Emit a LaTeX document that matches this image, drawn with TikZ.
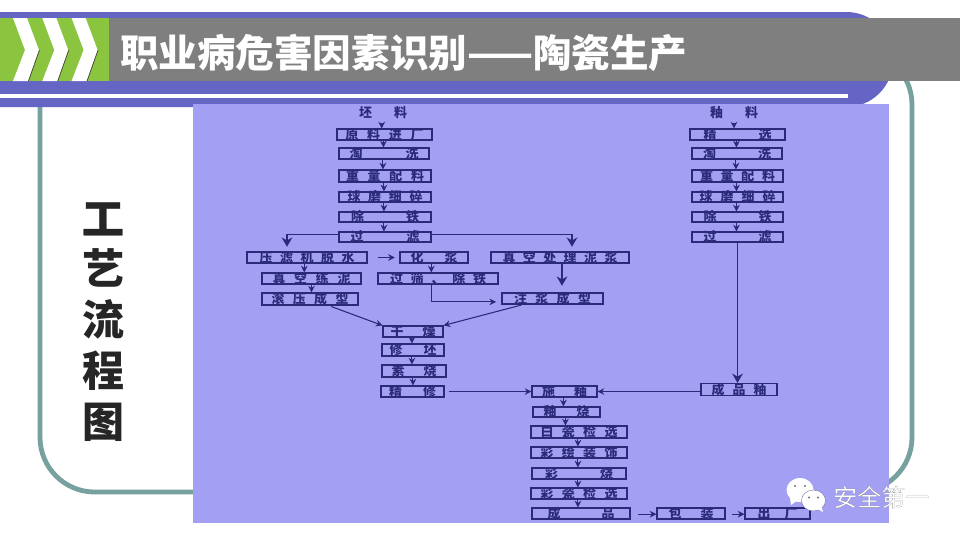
\documentclass[tikz,border=0pt]{standalone}
\usepackage{fontspec}
\setmainfont{Noto Sans CJK SC}
\usetikzlibrary{arrows.meta}
\definecolor{teal1}{HTML}{76A19E}
\definecolor{ban}{HTML}{6565C3}
\definecolor{greyb}{HTML}{7F7F7F}
\definecolor{grn}{HTML}{8BC53F}
\definecolor{lav}{HTML}{A3A0F4}
\definecolor{ink}{HTML}{2A2A78}
\newcommand\bx[7]{\node[pb,minimum width=#4*0.75pt,minimum height=#5*0.75pt] (#1) at (#2,#3) {\hbox to \dimexpr #6pt*3/4\relax{#7}};}
\tikzset{
 pb/.style={draw=ink,line width=0.85pt,inner sep=0pt,text=ink,font=\fontsize{9.7pt}{10pt}\selectfont\bfseries,text height=7.4pt,text depth=0pt},
 lab/.style={inner sep=0pt,text=ink,font=\fontsize{9.7pt}{10pt}\selectfont\bfseries},
 arr/.style={ink,line width=0.8pt,-{Stealth[length=5pt,width=5pt]}},
 arrb/.style={ink,line width=1.25pt,-{Stealth[length=7pt,width=8pt]}},
}
\begin{document}
\begin{tikzpicture}[x=0.75pt,y=-0.75pt]
\useasboundingbox (0,0) rectangle (960,540);
\fill[white] (0,0) rectangle (960,540);
% frame
\draw[teal1,line width=3.6pt,rounded corners=41pt] (40,50) rectangle (912,492);
% banner
\fill[ban,rounded corners=35pt] (-60,12) rectangle (893,107);
\fill[white] (0,94) rectangle (848,98);
\fill[greyb] (109,18) rectangle (960,81);
\fill[grn] (0,18) rectangle (109,81);
\foreach \d in {0,29.3,58.6}{
 \fill[white] (13+\d,18) -- (27+\d,18) -- (39+\d,50) -- (28+\d,81) -- (13+\d,81) -- (25+\d,50) -- cycle;
 \draw[black!75,line width=0.5pt] (39.5+\d,50) -- (28.5+\d,81);
}
\node[anchor=west,inner sep=0pt,text=white,font=\fontsize{28.9pt}{30pt}\selectfont\bfseries] (title) at (120,53) {职业病危害因素识别——陶瓷生产};
% side title
\node[inner sep=0pt,align=center,text=black!85,font=\fontsize{31.5pt}{38.2pt}\selectfont\bfseries] (side) at (103,322) {\addfontfeatures{FakeBold=0.6}工\\艺\\流\\程\\图};
% image
\fill[lav] (193,104) rectangle (889,523);
% left column
\node[lab] (pi) at (383,113) {\hbox to \dimexpr 48pt*3/4\relax{坯\hfil 料}};
\bx{a1}{384.5}{134.5}{95}{11}{78}{原\hfil 料\hfil 进\hfil 厂}
\bx{a2}{384}{153.5}{90}{11}{69}{淘\hfil 洗}
\bx{a3}{385}{176}{92}{12}{78}{重\hfil 量\hfil 配\hfil 料}
\bx{a4}{385}{197}{92}{10}{75}{球\hfil 磨\hfil 细\hfil 碎}
\bx{a5}{385}{217}{92}{10}{68}{除\hfil 铁}
\bx{a6}{385}{237}{92}{10}{69}{过\hfil 滤}
\bx{b1}{307}{257.5}{120}{11}{95}{压\hfil 滤\hfil 机\hfil 脱\hfil 水}
\bx{b2}{434}{257.5}{68}{11}{47}{化\hfil 浆}
\bx{b3}{560}{257.5}{138}{11}{115}{真\hfil 空\hfil 处\hfil 理\hfil 泥\hfil 浆}
\bx{c1}{311.5}{278.5}{99}{11}{78}{真\hfil 空\hfil 练\hfil 泥}
\bx{c2}{438}{278.5}{120}{11}{96}{过\hfil 筛\hfil 、\hfil 除\hfil 铁}
\bx{d1}{310}{299}{96}{12}{77}{滚\hfil 压\hfil 成\hfil 型}
\bx{d2}{552.5}{298.5}{101}{11}{77}{注\hfil 浆\hfil 成\hfil 型}
\bx{e1}{413}{331.5}{60}{11}{45}{干\hfil 燥}
\bx{e2}{413}{350}{62}{12}{47}{修\hfil 坯}
\bx{e3}{414}{371}{64}{12}{45}{素\hfil 烧}
\bx{e4}{412.5}{391.5}{63}{11}{47}{精\hfil 修}
% centre column
\bx{f1}{564.5}{391.5}{65}{11}{45}{施\hfil 釉}
\bx{f2}{566.5}{412}{67}{10}{46}{釉\hfil 烧}
\bx{f3}{579}{432}{96}{12}{77}{白\hfil 瓷\hfil 检\hfil 选}
\bx{f4}{579}{452.5}{96}{11}{77}{彩\hfil 绘\hfil 装\hfil 饰}
\bx{f5}{579}{473.5}{94}{11}{68}{彩\hfil 烧}
\bx{f6}{579}{493.5}{96}{11}{77}{彩\hfil 瓷\hfil 检\hfil 选}
\bx{f7}{581}{513.5}{98}{11}{67}{成\hfil 品}
\bx{g1}{691}{513.5}{68}{11}{45}{包\hfil 装}
\bx{g2}{777.5}{513.5}{65}{11}{40}{出\hfil 厂}
% right column
\node[lab] (you) at (734,113) {\hbox to \dimexpr 48pt*3/4\relax{釉\hfil 料}};
\bx{r1}{737.5}{134.5}{95}{11}{68}{精\hfil 选}
\bx{r2}{737}{153.5}{90}{11}{68}{淘\hfil 洗}
\bx{r3}{737.5}{176}{91}{12}{75}{重\hfil 量\hfil 配\hfil 料}
\bx{r4}{737.5}{197}{91}{10}{76}{球\hfil 磨\hfil 细\hfil 碎}
\bx{r5}{737.5}{217}{91}{10}{68}{除\hfil 铁}
\bx{r6}{737.5}{237}{91}{10}{68}{过\hfil 滤}
\bx{r7}{739}{389.5}{76}{12}{55}{成\hfil 品\hfil 釉}
% vertical connectors
\foreach \p/\q in {a1/a2,a2/a3,a3/a4,a4/a5,a5/a6,e1/e2,e2/e3,e3/e4,f1/f2,f2/f3,f3/f4,f4/f5,f5/f6,f6/f7,r1/r2,r2/r3,r3/r4,r4/r5,r5/r6}
 \draw[arr] ([xshift=-0.8pt]\p.south) -- ([xshift=-0.8pt]\p.south |- \q.north);
\draw[arr,shorten <=3pt] ([xshift=-1pt]pi.south) -- ([xshift=-1pt]pi.south |- a1.north);
\draw[arr,shorten <=3pt] (you.south) -- (you.south |- r1.north);
\draw[arr] ([xshift=-2pt]b1.south) -- ([xshift=-2pt]b1.south |- c1.north);
\draw[arr] (c1.south) -- (c1.south |- d1.north);
\draw[arr] ([xshift=-2pt]b2.south) -- ([xshift=-2pt]b2.south |- c2.north);
% branches
\draw[arrb,shorten >=3.5pt] ([yshift=2pt]a6.west) -| ([xshift=-15pt]b1.north);
\draw[arrb,shorten >=3.5pt] ([yshift=2pt]a6.east) -| ([xshift=9pt]b3.north);
\draw[arr,shorten <=7.5pt,shorten >=3.5pt] (b1.east) -- (b2.west);
\draw[arrb,shorten >=5pt] ([xshift=1.5pt]b3.south) -- ([xshift=1.5pt]b3.south |- d2.north);
\draw[arr,shorten >=4pt] ([xshift=-5pt]c2.south) |- ([yshift=-2.5pt]d2.west);
\draw[arr,shorten <=2pt] ([xshift=14pt]d1.south) -- (e1.north west);
\draw[arr,shorten <=1.5pt] ([xshift=-22pt]d2.south) -- (e1.north east);
\draw[arr,shorten <=3pt] (e4.east) -- (f1.west);
\draw[arr] (r7.west |- f1.east) -- (f1.east);
\draw[arrb] (r6.south) -- (r6.south |- r7.north);
\draw[arr,shorten <=5.5pt] ([yshift=-0.5pt]f7.east) -- ([yshift=-0.5pt]g1.west);
\draw[arr,shorten <=5pt] ([yshift=-0.5pt]g1.east) -- ([yshift=-0.5pt]g2.west);
% watermark
\fill[white] (800,490) ellipse (13.5 and 12);
\fill[white] (790,498) -- (791,505) -- (798,500) -- cycle;
\fill[white,draw=lav!70!black,line width=0.3pt] (813.5,500.5) ellipse (12 and 10.5);
\fill[white] (816,508) -- (823,512) -- (821,505) -- cycle;
\fill[black!55] (795,486) circle (1.2) (805,486) circle (1.2) (809,497.5) circle (1.1) (818,497.5) circle (1.1);
\node[anchor=west,inner sep=0pt,text=white,font=\fontsize{18pt}{20pt}\selectfont] (mark) at (833,497) {\addfontfeatures{FakeBold=0.035}\special{pdf:code 0.25 0.25 0.25 RG}安全第一};
\end{tikzpicture}
\end{document}
